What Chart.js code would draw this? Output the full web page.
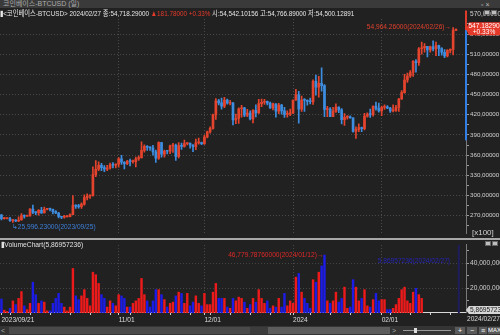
<!DOCTYPE html>
<html>
<head>
<meta charset="utf-8">
<script src="https://cdn.jsdelivr.net/npm/chart.js@4.4.1/dist/chart.umd.min.js"></script>
<style>
  body { margin:0; width:500px; height:335px; overflow:hidden; background:#212121; position:relative;
         font-family:"Liberation Sans","Noto Sans CJK KR",sans-serif; color:#ddd; }
  .abs { position:absolute; }
  #title { left:0; top:0; width:500px; height:8px; background:#3a3a3a; font-size:7px; line-height:8px; color:#aaa; padding-left:3px; box-sizing:border-box; }
  #info { left:0; top:8px; height:11px; font-size:8px; line-height:11px; white-space:nowrap; z-index:2; color:#e6e6e6;
          transform:scaleX(0.79); transform-origin:0 0; }
  .red { color:#e83a2a; }
  #sep { left:0; top:238px; width:500px; height:2px; background:#a8a8a8; }
  #volTitle { left:1px; top:240px; font-size:8px; line-height:9px; z-index:2; color:#e0e0e0; transform:scaleX(0.84); transform-origin:0 0; }
  #x100 { left:472px; top:228px; font-size:8px; line-height:9px; color:#d0d0d0; }
  .ico { width:6px; height:5px; background:#bdbdbd; border:1px solid #666; box-sizing:border-box; }
  #scroll { left:0; top:326px; width:500px; height:9px; background:#343434; }
  .btn { top:1px; height:7px; background:#5a5a5a; color:#fff; font-size:7px; line-height:7px; text-align:center; }
</style>
</head>
<body>
<div id="title" class="abs">코인베이스-BTCUSD (일)</div>
<div class="abs" style="left:481px;top:1px;font-size:7px;line-height:7px;color:#bbb">▫ ×</div>
<div id="info" class="abs">▮&lt;코인베이스-BTCUSD&gt; 2024/02/27 종:54,718.29000 <span class="red">▲181.78000 +0.33%</span> 시:54,542.10156 고:54,766.89000 저:54,500.12891</div>
<canvas id="price" class="abs" style="left:0;top:8px" width="500" height="230"></canvas>
<div class="abs ico" style="left:484px;top:10px"></div><div class="abs ico" style="left:491px;top:10px"></div>
<div id="x100" class="abs">[x100]</div>
<div id="sep" class="abs"></div>
<canvas id="vol" class="abs" style="left:0;top:240px" width="500" height="86"></canvas>
<div id="volTitle" class="abs">▮VolumeChart(5,86957236)</div>
<div class="abs ico" style="left:485px;top:241px"></div><div class="abs ico" style="left:492px;top:241px"></div>
<div id="scroll" class="abs">
  <div class="abs" style="left:1px;top:0;width:8px;height:9px;color:#aaa;font-size:7px;line-height:9px">&lt;</div>
  <div class="abs" style="left:9px;top:1px;width:241px;height:7px;background:#4a4a4a"></div>
  <div class="abs" style="left:250px;top:1px;width:18px;height:7px;background:#3c3c3c"></div>
  <div class="abs" style="left:268px;top:1px;width:122px;height:7px;background:#5c5c5c"></div>
  <div class="abs" style="left:392px;top:0;width:8px;height:9px;color:#aaa;font-size:7px;line-height:9px">&gt;</div>
  <div class="abs" style="left:403px;top:4px;width:48px;height:1px;background:#999"></div>
  <div class="abs" style="left:414px;top:2px;width:3px;height:5px;background:#ddd"></div>
  <div class="abs btn" style="left:455px;width:10px">+</div>
  <div class="abs btn" style="left:467px;width:10px">−</div>
  <div class="abs btn" style="left:479px;width:8px">≡</div>
  <div class="abs btn" style="left:488px;width:12px;font-size:6px">MAX</div>
</div>
<script>
// daily candles 2023/09/21 .. 2024/02/27, price in x100 units
const startDate = new Date(2023, 8, 21);
const openP = [
  271.3,265.7,265.8,265.8,262.5,263.0,262.1,263.5,270.2,269.1,
  269.7,279.9,275.0,274.3,277.9,274.1,279.5,279.7,279.4,275.9,
  273.9,268.7,267.6,268.6,268.6,271.5,285.2,284.1,283.3,287.2,
  296.8,299.2,299.9,330.9,339.0,345.0,341.5,339.0,340.9,345.4,
  345.0,346.6,354.4,349.4,347.3,350.8,350.4,350.4,354.2,356.3,
  367.0,373.1,371.3,370.7,364.8,355.5,378.6,361.6,365.9,365.8,
  373.8,374.7,358.1,374.2,372.9,377.2,377.9,374.8,372.5,378.3,
  378.6,377.2,386.9,394.6,399.7,419.8,440.8,437.7,432.9,441.7,
  437.2,437.9,412.4,414.5,428.9,430.2,419.4,422.6,413.7,426.6,
  422.7,436.5,438.6,439.9,437.4,430.1,436.1,425.2,434.4,425.9,
  420.7,421.4,422.8,441.8,449.6,428.5,441.8,441.6,439.7,439.3,
  469.7,461.2,466.6,463.4,427.8,428.5,417.3,425.0,431.5,427.4,
  412.6,416.2,416.7,415.5,395.1,398.4,400.8,399.4,418.0,421.2,
  420.3,433.0,429.4,425.8,430.8,431.9,430.0,425.8,426.6,430.9,
  443.4,452.9,471.5,477.7,482.9,499.6,497.4,518.2,519.4,521.6,
  516.6,521.2,517.8,522.8,518.5,513.0,507.4,515.7,517.3,545.42
];
const highP = [
  271.6,267.4,266.2,267.4,264.3,264.0,268.3,273.1,271.2,270.9,
  280.6,285.8,276.0,279.0,282.5,282.9,280.6,281.1,279.9,277.4,
  274.8,269.0,270.5,269.7,272.9,300.0,286.1,287.0,289.1,301.0,
  302.3,301.0,342.5,352.0,350.0,347.8,344.6,344.7,348.0,349.0,
  347.2,356.5,359.6,350.5,352.4,354.0,352.5,357.0,358.8,379.8,
  375.3,374.3,372.5,374.4,367.5,379.6,379.0,367.6,367.0,375.0,
  377.5,376.5,378.6,378.0,382.5,378.2,378.0,375.8,384.0,385.4,
  379.5,389.8,395.7,401.9,421.0,444.0,442.9,445.0,446.0,443.3,
  441.3,438.3,421.0,430.4,434.0,431.0,428.0,426.0,427.6,434.8,
  442.8,443.5,443.0,440.2,439.0,437.4,436.1,437.2,435.4,431.2,
  425.8,428.6,442.0,457.9,455.0,447.9,444.0,442.4,444.9,472.1,
  478.9,477.0,489.7,465.0,432.6,430.8,430.9,436.2,431.9,429.3,
  421.9,418.7,418.3,415.5,402.0,406.4,401.7,422.1,423.0,428.4,
  433.1,438.8,437.5,432.9,434.9,433.8,431.2,434.9,434.0,444.5,
  456.0,480.0,482.0,485.6,500.5,502.0,520.0,528.2,525.8,521.8,
  522.0,529.9,528.0,523.7,520.0,517.0,517.0,518.0,549.64,547.67
];
const lowP = [
  263.6,264.7,265.2,261.3,259.96,260.9,260.9,263.2,266.1,268.9,
  269.4,273.0,271.5,270.7,273.5,273.9,278.4,277.1,272.6,272.9,
  266.8,265.6,266.1,267.6,268.3,271.5,280.8,281.3,280.9,285.6,
  293.5,295.7,298.9,328.0,337.0,337.0,335.5,337.0,339.0,340.8,
  340.8,342.2,346.0,339.4,345.7,344.0,348.0,342.6,352.1,355.3,
  364.4,367.0,366.9,360.0,349.0,353.6,357.0,357.0,361.7,362.0,
  364.0,352.2,356.0,368.6,372.0,375.0,370.5,365.0,368.0,376.2,
  375.5,376.0,385.6,392.8,398.7,413.2,434.5,428.2,430.7,435.9,
  434.7,405.0,406.6,407.0,416.6,417.0,417.0,412.4,408.0,416.8,
  422.0,432.0,435.4,434.8,429.3,427.1,416.4,421.6,421.0,416.0,
  416.3,418.6,421.8,441.6,407.5,425.0,425.0,434.2,436.1,435.4,
  449.0,446.1,455.0,417.0,417.0,417.2,417.1,423.6,423.0,406.3,
  404.3,413.6,415.0,394.2,385.0,394.9,395.0,397.6,416.5,416.0,
  418.0,427.0,423.7,418.6,428.0,428.9,423.5,424.2,425.0,425.0,
  443.0,452.0,468.0,475.6,477.0,483.2,493.3,510.0,513.0,506.2,
  513.0,515.0,508.0,508.0,508.8,505.0,506.0,512.0,509.0,545.0
];
const closeP = [
  265.7,265.8,265.8,262.5,263.0,262.1,263.5,270.2,269.1,269.7,
  279.9,275.0,274.3,277.9,274.1,279.5,279.7,279.4,275.9,273.9,
  268.7,267.6,268.6,268.6,271.5,285.2,284.1,283.3,287.2,296.8,
  299.2,299.9,330.9,339.0,345.0,341.5,339.0,340.9,345.4,345.0,
  346.6,354.4,349.4,347.3,350.8,350.4,350.4,354.2,356.3,367.0,
  373.1,371.3,370.7,364.8,355.5,378.6,361.6,365.9,365.8,373.8,
  374.7,358.1,374.2,372.9,377.2,377.9,374.8,372.5,378.3,378.6,
  377.2,386.9,394.6,399.7,419.8,440.8,437.7,432.9,441.7,437.2,
  437.9,412.4,414.5,428.9,430.2,419.4,422.6,413.7,426.6,422.7,
  436.5,438.6,439.9,437.4,430.1,436.1,425.2,434.4,425.9,420.7,
  421.4,422.8,441.8,449.6,428.5,441.8,441.6,439.7,439.3,469.7,
  461.2,466.6,463.4,427.8,428.5,417.3,425.0,431.5,427.4,412.6,
  416.2,416.7,415.5,395.1,398.4,400.8,399.4,418.0,421.2,420.3,
  433.0,429.4,425.8,430.8,431.9,430.0,425.8,426.6,430.9,443.4,
  452.9,471.5,477.7,482.9,499.6,497.4,518.2,519.4,521.6,516.6,
  521.2,517.8,522.8,518.5,513.0,507.4,515.7,517.3,545.4,547.1829
];
const volume = [
  11500,2500,1500,4000,10000,7000,12000,17500,6000,3000,
  8000,25000,15000,8000,10000,9000,2000,2000,8000,12000,
  16000,8000,5000,2000,5000,36000,14000,11000,14000,19000,
  12000,6000,33000,31000,24000,15000,12000,5000,10000,8000,
  6000,15000,14000,12000,5000,5000,8000,10000,12000,28000,
  15000,10000,5000,10000,19000,19000,15000,11000,5000,8000,
  9000,14000,17000,16000,8000,16000,6000,9000,14000,8000,
  6000,16000,7000,7000,17000,24000,12000,12000,12000,5000,
  4000,12000,10000,13000,12000,9000,4000,7000,12000,9000,
  19000,12000,8000,10000,4000,6000,5000,12000,5000,16000,
  6000,10000,8000,29000,32000,17000,12000,8000,4000,27000,
  25000,33000,38000,46779.79,10000,8000,10000,17000,9000,12000,
  21000,4000,5000,27000,21000,10000,12000,19000,6000,5000,
  11000,16000,10000,11000,11000,3000,3000,4000,7000,12000,
  19000,21000,10000,8000,17000,20000,15000,12000,null,null,
  null,null,null,null,null,null,null,null,null,5.87
];
const priceTicks = [255,270,285,300,315,330,345,360,375,390,405,420,435,450,465,480,495,510,525,540,555];
const volTicks = [10000,20000,30000,40000,50000];
const xTickIdx = [0, 41, 71, 102, 133];
const xTickText = ['2023/09/21', '11/01', '12/01', '2024', '02/01'];
const axisRed = [546, 575];
const axisBlue = [382, 546];
const padSlots = 3;

const dates = closeP.map((c, i) => {
  const d = new Date(startDate.getTime() + i * 86400000);
  return d.getFullYear() + '/' + String(d.getMonth() + 1).padStart(2, '0') + '/' + String(d.getDate()).padStart(2, '0');
});
const labels = dates.concat(Array(padSlots).fill(''));

const upCandle = '#e4432d', downCandle = '#3d8de0';
const upVol = '#ec1a1a', downVol = '#1c1ce6';
const isUp = closeP.map((c, i) => c >= openP[i]);
const FONT = '"Liberation Sans", "Noto Sans CJK KR", sans-serif';
const monthGrid = (ctx) => xTickIdx.includes(ctx.index) && ctx.index > 0 ? '#4c4c4c' : 'transparent';

// annotations on price panel
const priceMarks = {
  id: 'priceMarks',
  afterDraw(chart) {
    const {ctx, chartArea: {right}, scales: {x, y}} = chart;
    ctx.save();
    ctx.font = '6.6px ' + FONT;
    ctx.fillStyle = '#e03a2a';
    ctx.fillRect(right - 1, y.getPixelForValue(axisRed[1]), 2, y.getPixelForValue(axisRed[0]) - y.getPixelForValue(axisRed[1]));
    ctx.fillStyle = '#2f7fe6';
    ctx.fillRect(right - 1, y.getPixelForValue(axisBlue[1]), 2, y.getPixelForValue(axisBlue[0]) - y.getPixelForValue(axisBlue[1]));
    // 570 label sits above the plot
    ctx.fillStyle = '#cfcfcf';
    ctx.textBaseline = 'middle';
    ctx.fillText('570,00000', right + 4, y.getPixelForValue(570));
    // highest high
    const hi = highP.indexOf(Math.max(...highP));
    ctx.fillStyle = '#e0402c';
    ctx.textAlign = 'right';
    ctx.fillText('54,964.26000(2024/02/26)→', x.getPixelForValue(hi) - 2, y.getPixelForValue(highP[hi]));
    // lowest low
    const lo = lowP.indexOf(Math.min(...lowP));
    ctx.fillStyle = '#3d7fd8';
    ctx.textAlign = 'left';
    ctx.textBaseline = 'top';
    ctx.fillText('↳25,996.23000(2023/09/25)', x.getPixelForValue(lo) - 1, y.getPixelForValue(lowP[lo]) + 1);
    // last price tag
    const last = closeP[closeP.length - 1];
    const py = y.getPixelForValue(last);
    ctx.fillStyle = '#e5392a';
    ctx.beginPath();
    ctx.moveTo(right, py);
    ctx.lineTo(right + 3, py - 7);
    ctx.lineTo(500, py - 7);
    ctx.lineTo(500, py + 6);
    ctx.lineTo(right + 3, py + 6);
    ctx.closePath();
    ctx.fill();
    ctx.fillStyle = '#fff';
    ctx.textAlign = 'center';
    ctx.textBaseline = 'middle';
    ctx.fillText(last.toFixed(5), 484, py - 3);
    ctx.fillText('+0.33%', 484, py + 3);
    ctx.restore();
  }
};

const volMarks = {
  id: 'volMarks',
  afterDraw(chart) {
    const {ctx, chartArea: {top, bottom, right}, scales: {x, y}} = chart;
    ctx.save();
    ctx.font = '6.6px ' + FONT;
    ctx.fillStyle = '#1e1e5c';
    const bx = x.getPixelForValue(closeP.length);
    ctx.fillRect(bx - 1, top, 2, bottom - top);
    // max volume note
    const vals = volume.map(v => v || 0);
    const mi = vals.indexOf(Math.max(...vals));
    ctx.fillStyle = '#e02828';
    ctx.textAlign = 'right';
    ctx.textBaseline = 'middle';
    ctx.fillText('46,779.78760000(2024/01/12)→', x.getPixelForValue(mi) - 1, y.getPixelForValue(volume[mi]));
    // current volume note
    const li = volume.length - 1;
    ctx.fillStyle = '#2424b8';
    ctx.fillText('5,86957236(2024/02/27)', x.getPixelForValue(li) - 6, top + 16);
    // current volume tag
    const py = y.getPixelForValue(volume[li]) - 3;
    ctx.fillStyle = '#d6d6d6';
    ctx.beginPath();
    ctx.moveTo(right, py);
    ctx.lineTo(right + 3, py - 4);
    ctx.lineTo(500, py - 4);
    ctx.lineTo(500, py + 4);
    ctx.lineTo(right + 3, py + 4);
    ctx.closePath();
    ctx.fill();
    ctx.fillStyle = '#222';
    ctx.textAlign = 'left';
    ctx.fillText('5,86957236', right + 4, py);
    // last date, right aligned
    ctx.fillStyle = '#dddddd';
    ctx.textAlign = 'right';
    ctx.textBaseline = 'top';
    ctx.fillText(dates[li], 500, x.top + 3);
    ctx.restore();
  }
};

new Chart(document.getElementById('price'), {
  type: 'bar',
  data: {
    labels: labels,
    datasets: [
      {
        data: closeP.map((c, i) => [openP[i], c]),
        backgroundColor: isUp.map(u => u ? upCandle : downCandle),
        barThickness: 2, minBarLength: 1, grouped: false, borderWidth: 0
      },
      {
        data: lowP.map((l, i) => [l, highP[i]]),
        backgroundColor: isUp.map(u => u ? upCandle : downCandle),
        barThickness: 1, grouped: false, borderWidth: 0
      }
    ]
  },
  options: {
    responsive: false, animation: false, devicePixelRatio: 1,
    layout: {padding: {top: 11, left: 0, right: 0, bottom: 0}},
    plugins: {legend: {display: false}, tooltip: {enabled: false}},
    scales: {
      x: {
        grid: {offset: false, color: monthGrid, drawTicks: false},
        border: {display: false, dash: [1, 2]},
        ticks: {display: false, autoSkip: false},
        afterFit: (a) => { a.height = 0; }
      },
      y: {
        position: 'right', min: 243.8, max: 562.4,
        afterBuildTicks: (a) => { a.ticks = priceTicks.map(v => ({value: v})); },
        afterFit: (a) => { a.width = 34; },
        ticks: {
          autoSkip: false, color: '#d0d0d0', padding: 1, font: {family: FONT, size: 6.2},
          callback: (v) => v % 30 === 0 ? v.toFixed(5).replace('.', ',') : ''
        },
        grid: {
          color: (ctx) => ctx.tick && ctx.tick.value % 30 === 0 ? '#4a4a4a' : 'transparent',
          tickColor: '#9a9a9a', tickLength: 3
        },
        border: {color: '#7a7a7a', dash: [1, 2]}
      }
    }
  },
  plugins: [priceMarks]
});

new Chart(document.getElementById('vol'), {
  type: 'bar',
  data: {
    labels: labels,
    datasets: [{
      data: volume,
      backgroundColor: isUp.map(u => u ? upVol : downVol),
      categoryPercentage: 1, barPercentage: 0.85, borderWidth: 0
    }]
  },
  options: {
    responsive: false, animation: false, devicePixelRatio: 1,
    layout: {padding: {top: 2, left: 0, right: 0, bottom: 0}},
    plugins: {legend: {display: false}, tooltip: {enabled: false}},
    scales: {
      x: {
        grid: {
          offset: false, color: monthGrid, tickLength: 2,
          tickColor: (ctx) => (ctx.index % 7 === 3 || xTickIdx.includes(ctx.index)) && ctx.index < closeP.length ? '#cfcfcf' : 'transparent'
        },
        border: {color: '#d8d8d8', dash: [1, 2]},
        ticks: {
          autoSkip: false, maxRotation: 0, align: 'start', padding: 1, color: '#dddddd',
          font: {family: FONT, size: 6.6},
          callback: (v, i) => { const k = xTickIdx.indexOf(i); return k >= 0 ? xTickText[k] : ''; }
        },
        afterFit: (a) => { a.height = 13; }
      },
      y: {
        position: 'right', min: 0, max: 54600,
        afterBuildTicks: (a) => { a.ticks = volTicks.map(v => ({value: v})); },
        afterFit: (a) => { a.width = 34; },
        ticks: {
          autoSkip: false, color: '#d0d0d0', padding: 1, font: {family: FONT, size: 6.6},
          callback: (v) => v % 20000 === 0 ? (v * 1000).toLocaleString('en-US') : ''
        },
        grid: {
          color: (ctx) => ctx.tick && ctx.tick.value % 20000 === 0 ? '#444' : 'transparent',
          tickColor: '#9a9a9a', tickLength: 3
        },
        border: {color: '#7a7a7a', dash: [1, 2]}
      }
    }
  },
  plugins: [volMarks]
});
</script>
</body>
</html>
